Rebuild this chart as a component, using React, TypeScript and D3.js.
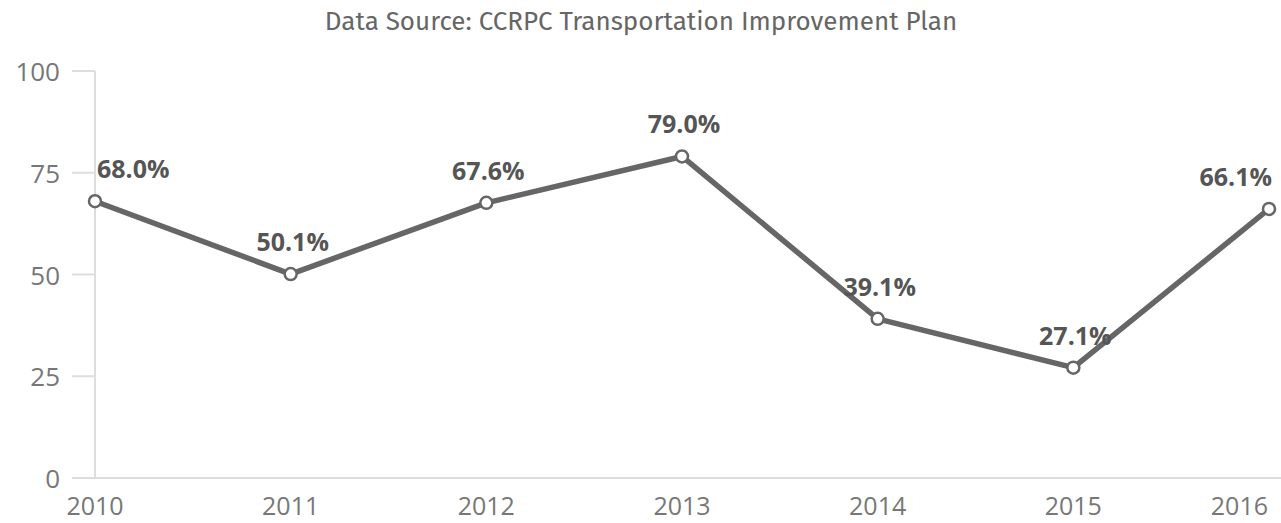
import React from 'react'
import * as d3 from 'd3'

const years = ['2010', '2011', '2012', '2013', '2014', '2015', '2016']
const values = [68.0, 50.1, 67.6, 79.0, 39.1, 27.1, 66.1]
const yTicks = [0, 25, 50, 75, 100]
const title = 'Data Source: CCRPC Transportation Improvement Plan'

const W = 1281
const H = 523
const titleFont = '"Fira Sans", "Source Sans Pro", "Noto Sans", sans-serif'
const font = '"Open Sans", "Noto Sans", sans-serif'

export default function App() {
	const x = d3.scalePoint().domain(years).range([95, 1269])
	const y = d3.scaleLinear().domain([0, 100]).range([478, 71])

	const line = d3
		.line<number>()
		.x((d, i) => x(years[i]) as number)
		.y((d) => y(d))

	// first and last labels are pushed inside the plot
	const labelX = (i: number) => {
		const px = x(years[i]) as number
		if (i === 0) return { x: px + 2, anchor: 'start' }
		if (i === years.length - 1) return { x: px + 3, anchor: 'end' }
		return { x: px + 2, anchor: 'middle' }
	}

	const last = years[years.length - 1]

	return (
		<svg
			width={W}
			height={H}
			style={{ position: 'absolute', left: 0, top: 0, background: '#fff' }}
			fontFamily={font}
		>
			<text x={641} y={30} textAnchor="middle" fontSize={26} fill="#666" fontFamily={titleFont}>
				{title}
			</text>

			{/* axes */}
			<line x1={95} x2={95} y1={y(100)} y2={y(0)} stroke="#ddd" strokeWidth={2} />
			<line x1={72} x2={W} y1={y(0)} y2={y(0)} stroke="#ddd" strokeWidth={2} />
			{yTicks.map((t) => (
				<g key={t}>
					<line x1={72} x2={95} y1={y(t)} y2={y(t)} stroke="#ddd" strokeWidth={2} />
					<text x={60} y={y(t) + 10} textAnchor="end" fontSize={26} fill="#777">
						{t}
					</text>
				</g>
			))}
			{years.map((yr) => (
				<text
					key={yr}
					x={yr === last ? 1268 : x(yr)}
					y={515}
					textAnchor={yr === last ? 'end' : 'middle'}
					fontSize={25}
					fill="#777"
				>
					{yr}
				</text>
			))}

			<path d={line(values) || ''} fill="none" stroke="#666" strokeWidth={5.5} strokeLinejoin="round" />
			{values.map((v, i) => (
				<circle key={i} cx={x(years[i])} cy={y(v)} r={6} fill="#fff" stroke="#666" strokeWidth={2.5} />
			))}
			{values.map((v, i) => {
				const l = labelX(i)
				return (
					<text
						key={'l' + i}
						x={l.x}
						y={y(v) - 23}
						textAnchor={l.anchor}
						fontSize={25}
						fontWeight="bold"
						fill="#555"
					>
						{v.toFixed(1) + '%'}
					</text>
				)
			})}
		</svg>
	)
}
